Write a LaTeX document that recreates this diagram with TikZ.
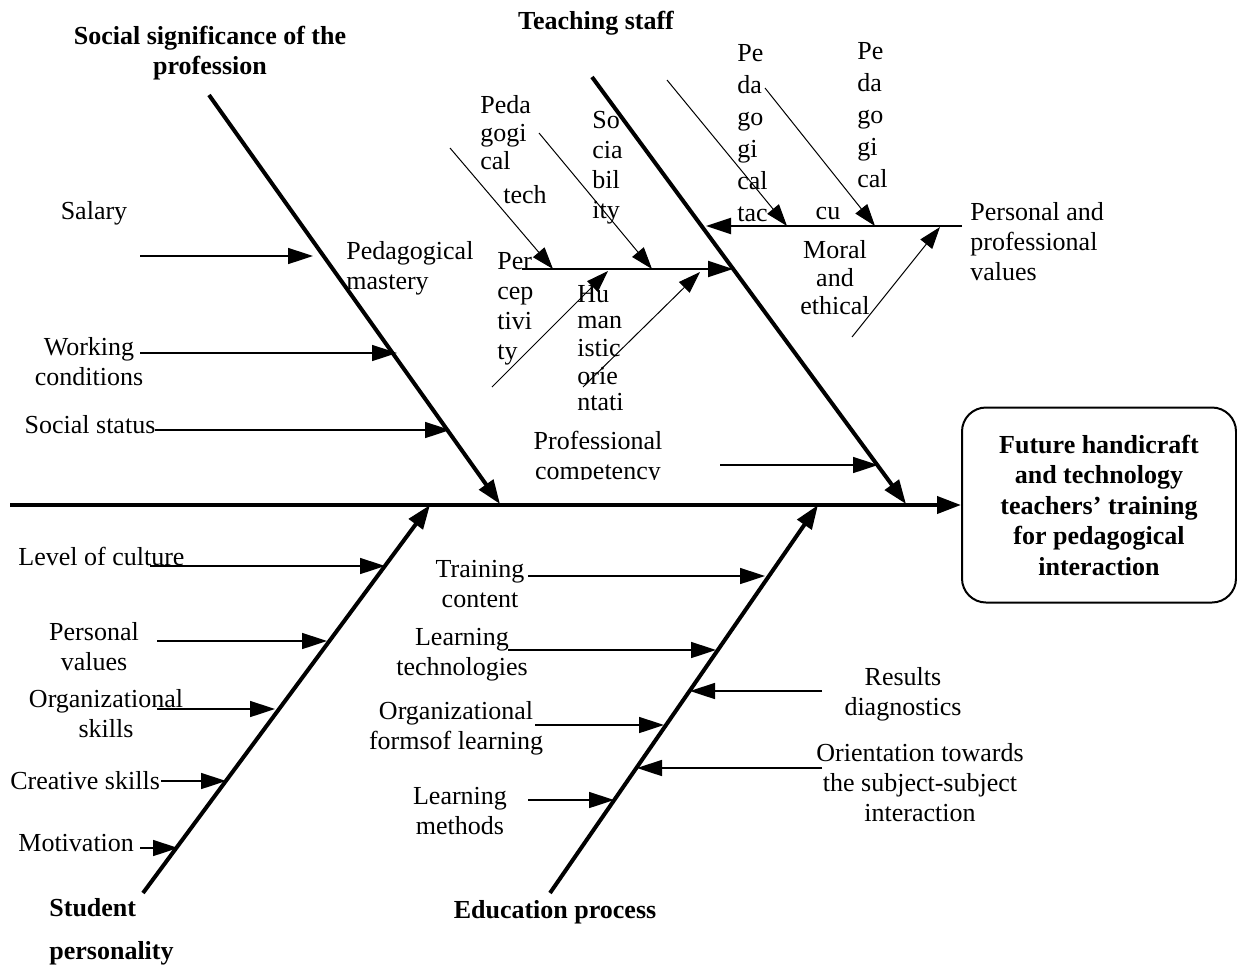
\documentclass[tikz,border=0pt]{standalone}
\usepackage{fontspec}
\setmainfont{Liberation Serif}
\usetikzlibrary{arrows.meta}

\begin{document}
\begin{tikzpicture}[x=0.5pt,y=-0.5pt,
  font=\fontsize{13}{15}\selectfont,
  lbl/.style={align=center, inner sep=0pt},
  lbll/.style={align=left, anchor=west, inner sep=0pt},
  head/.style={align=center, inner sep=0pt, font=\fontsize{13}{15}\selectfont\bfseries},
  bone/.style={line width=2pt, -{Triangle[length=12pt,width=8.5pt]}},
  rib/.style={line width=0.8pt, -{Triangle[length=12.5pt,width=8pt]}},
  twig/.style={line width=0.5pt, -{Triangle[length=11pt,width=7.5pt]}},
  goalbox/.style={draw, line width=1pt, rounded corners=12pt, minimum width=137pt,
    minimum height=97.5pt, align=center, font=\fontsize{13}{15.25}\selectfont\bfseries}]
\useasboundingbox (0,0) rectangle (1237,964);

% head of the fish
\node [goalbox] (goal) at (1099,505) {Future handicraft\\and technology\\teachers’ training\\for pedagogical\\interaction};
\coordinate (tail) at (10,505);
\draw [bone] (tail) -- (goal.west);

% main bones
\node [head] (social) at (210,53) {Social significance of the\\profession};
\node [head] (staff) at (596,23) {Teaching staff};
\node [head, align=left, anchor=west] (student) at (49,932) {Student\\[6.5pt]personality};
\node [head] (edu) at (555,912) {Education process};
\coordinate (soc0) at (209,95);  \coordinate (soc1) at (500,504);
\coordinate (sta0) at (592,77);  \coordinate (sta1) at (906,504);
\coordinate (stu0) at (143,893); \coordinate (stu1) at (430,505);
\coordinate (edu0) at (550,893); \coordinate (edu1) at (818,505);
\draw [bone] (soc0) -- (soc1);
\draw [bone] (sta0) -- (sta1);
\draw [bone] (stu0) -- (stu1);
\draw [bone] (edu0) -- (edu1);

% social significance
\node [lbl] (salary) at (94,213) {Salary};
\node [lbl] (work) at (89,362) {Working\\conditions};
\node [lbl] (status) at (90,425) {Social status};
\node [lbll] (mastery) at (346,268) {Pedagogical\\mastery};
\coordinate (sal0) at (140,256); \coordinate (sal1) at (313,256);
\coordinate (wor0) at (140,353); \coordinate (wor1) at (397,353);
\coordinate (sts0) at (155,430); \coordinate (sts1) at (450,430);
\draw [rib] (sal0) -- (sal1);
\draw [rib] (wor0) -- (wor1);
\draw [rib] (sts0) -- (sts1);

% teaching staff
\begin{scope}
\clip (480,420) rectangle (720,479);
\node [lbl] (comp) at (598,458) {Professional\\competency};
\end{scope}
\coordinate (com0) at (720,465); \coordinate (com1) at (878,465);
\draw [rib] (com0) -- (com1);

\node [lbll] (ptech) at (480,133) {Peda\\[-1pt]gogi\\[-1pt]cal};
\node [lbll] (tech) at (503,195) {tech};
\node [lbll] (socia) at (592,168) {So\\cia\\bil\\ity};
\node [lbll] (percep) at (497,309) {Per\\cep\\tivi\\ty};
\node [lbll] (human) at (577,348) {Hu\\[-2pt]man\\[-1pt]istic\\[-1pt]orie\\[-2pt]ntati};
\coordinate (pm0) at (522,269); \coordinate (pm1) at (733,269);
\draw [rib, line width=1pt] (pm0) -- (pm1);
\coordinate (tc0) at (450,148); \coordinate (tc1) at (553,269);
\coordinate (sb0) at (539,133); \coordinate (sb1) at (652,269);
\coordinate (pc0) at (492,387); \coordinate (pc1) at (608,271);
\coordinate (hu0) at (583,387); \coordinate (hu1) at (700,272);
\draw [twig] (tc0) -- (tc1);
\draw [twig] (sb0) -- (sb1);
\draw [twig] (pc0) -- (pc1);
\draw [twig] (hu0) -- (hu1);

\node [lbll] (tact) at (737,133) {Pe\\[1pt]da\\[1pt]go\\[1pt]gi\\[1pt]cal\\[1pt]tac};
\node [lbll] (cult) at (857,115) {Pe\\[1pt]da\\[1pt]go\\[1pt]gi\\[1pt]cal};
\node [lbl] (cu) at (828,213) {cu};
\node [lbl] (moral) at (835,278) {Moral\\[-1pt]and\\[-1pt]ethical};
\node [lbll] (values) at (970,242) {Personal and\\professional\\values};
\coordinate (pv0) at (962,226); \coordinate (pv1) at (706,226);
\draw [rib, line width=1pt] (pv0) -- (pv1);
\coordinate (ta0) at (667,80);  \coordinate (ta1) at (787,226);
\coordinate (cu0) at (765,88);  \coordinate (cu1) at (875,226);
\coordinate (me0) at (852,337); \coordinate (me1) at (940,227);
\draw [twig] (ta0) -- (ta1);
\draw [twig] (cu0) -- (cu1);
\draw [twig] (me0) -- (me1);

% student personality
\node [lbll] (culture) at (18,556) {Level of culture};
\node [lbl] (pvals) at (94,647) {Personal\\values};
\node [lbl] (orgsk) at (106,714) {Organizational\\skills};
\node [lbll] (creat) at (10,781) {Creative skills};
\node [lbll] (motiv) at (18,843) {Motivation};
\coordinate (lc0) at (150,566); \coordinate (lc1) at (385,566);
\coordinate (pv2) at (157,641); \coordinate (pv3) at (327,641);
\coordinate (os0) at (157,709); \coordinate (os1) at (275,709);
\coordinate (cs0) at (161,781); \coordinate (cs1) at (226,781);
\coordinate (mo0) at (140,848); \coordinate (mo1) at (178,848);
\draw [rib] (lc0) -- (lc1);
\draw [rib] (pv2) -- (pv3);
\draw [rib] (os0) -- (os1);
\draw [rib] (cs0) -- (cs1);
\draw [rib] (mo0) -- (mo1);

% education process
\node [lbl] (content) at (480,584) {Training\\content};
\node [lbl] (ltech) at (462,655) {Learning\\technologies};
\node [lbl] (forms) at (456,728) {Organizational\\formsof learning};
\node [lbl] (methods) at (460,811) {Learning\\methods};
\node [lbl] (diag) at (903,694) {Results\\diagnostics};
\node [lbl] (orient) at (920,783) {Orientation towards\\the subject-subject\\interaction};
\coordinate (tr0) at (528,576); \coordinate (tr1) at (765,576);
\coordinate (lt0) at (508,650); \coordinate (lt1) at (716,650);
\coordinate (rd0) at (822,691); \coordinate (rd1) at (690,691);
\coordinate (of0) at (535,725); \coordinate (of1) at (664,725);
\coordinate (or0) at (822,768); \coordinate (or1) at (637,768);
\coordinate (lm0) at (528,800); \coordinate (lm1) at (614,800);
\draw [rib] (tr0) -- (tr1);
\draw [rib] (lt0) -- (lt1);
\draw [rib] (rd0) -- (rd1);
\draw [rib] (of0) -- (of1);
\draw [rib] (or0) -- (or1);
\draw [rib] (lm0) -- (lm1);
\end{tikzpicture}
\end{document}
